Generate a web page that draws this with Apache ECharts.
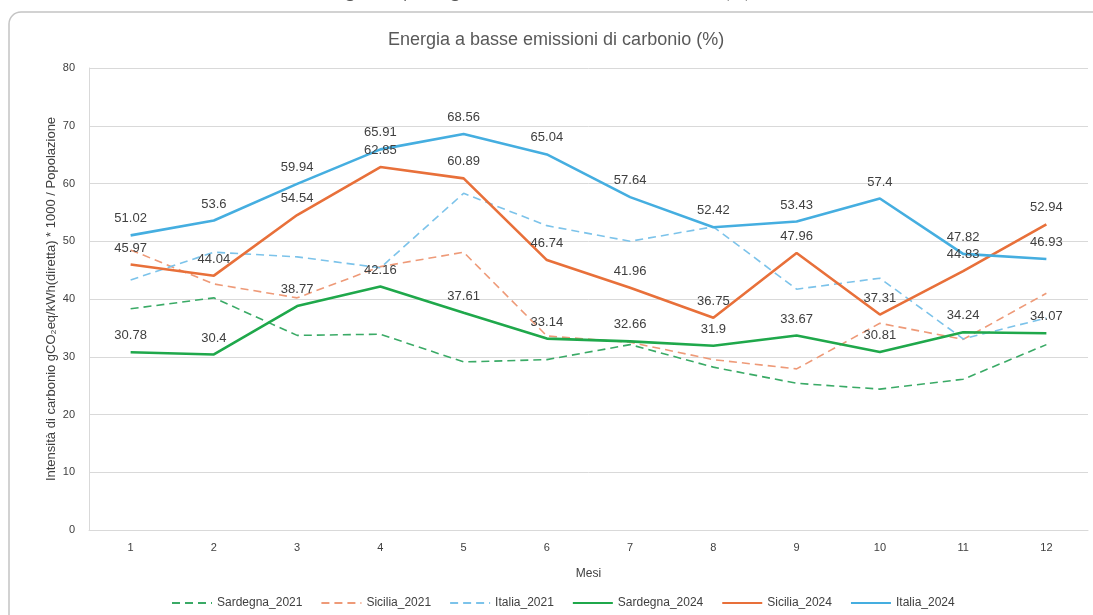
<!DOCTYPE html>
<html>
<head>
<meta charset="utf-8">
<script src="https://cdn.jsdelivr.net/npm/echarts@6/dist/echarts.min.js"></script>
<style>
  html, body { margin: 0; padding: 0; background: #ffffff; }
  #chart { width: 1093px; height: 615px; }
</style>
</head>
<body>
<div id="chart"></div>
<script>
// Months on the category axis
const months = ['1', '2', '3', '4', '5', '6', '7', '8', '9', '10', '11', '12'];

// 2021 series (dashed, no value labels)
const sardegna2021 = [38.3, 40.2, 33.7, 33.9, 29.1, 29.5, 32.1, 28.2, 25.4, 24.4, 26.1, 32.1];
const sicilia2021  = [48.5, 42.6, 40.2, 45.6, 48.1, 33.6, 32.5, 29.5, 27.9, 35.8, 33.0, 41.0];
const italia2021   = [43.3, 48.1, 47.3, 45.4, 58.3, 52.7, 50.0, 52.5, 41.7, 43.6, 33.1, 36.7];

// 2024 series (solid, labelled)
const sardegna2024 = [30.78, 30.4, 38.77, 42.16, 37.61, 33.14, 32.66, 31.9, 33.67, 30.81, 34.24, 34.07];
const sicilia2024  = [45.97, 44.04, 54.54, 62.85, 60.89, 46.74, 41.96, 36.75, 47.96, 37.31, 44.83, 52.94];
const italia2024   = [51.02, 53.6, 59.94, 65.91, 68.56, 65.04, 57.64, 52.42, 53.43, 57.4, 47.82, 46.93];

const yTicks = { min: 0, max: 80, interval: 10 };

const chart = echarts.init(document.getElementById('chart'), null, { renderer: 'canvas' });

const FONT = 'Liberation Sans, Arial, sans-serif';

const labelStyle = {
  show: true,
  position: 'top',
  distance: 10,
  color: '#404040',
  fontSize: 13,
  fontFamily: FONT
};

function dashed(name, data, color) {
  return {
    name, type: 'line', data,
    symbol: 'none',
    lineStyle: { color, width: 1.6, type: [8, 5] },
    itemStyle: { color },
    z: 2
  };
}

function solid(name, data, color) {
  return {
    name, type: 'line', data,
    symbol: 'circle', symbolSize: 0, showSymbol: true,
    lineStyle: { color, width: 2.6 },
    itemStyle: { color },
    label: labelStyle,
    z: 3
  };
}

chart.setOption({
  animation: false,
  backgroundColor: '#ffffff',
  graphic: [
    {
      type: 'rect',
      shape: { x: 9, y: 12, width: 1200, height: 700, r: 12 },
      style: { fill: 'none', stroke: '#c4c4c4', lineWidth: 1.5 },
      z: -1
    },
    {
      type: 'text',
      left: 330, top: -18,
      style: {
        text: 'Figura 1 | Energia a basse emissioni di carbonio (%)',
        fill: '#595959',
        font: '19px Lato, sans-serif'
      }
    }
  ],
  title: {
    text: 'Energia a basse emissioni di carbonio (%)',
    left: 383,
    top: 26,
    textStyle: {
      color: '#595959',
      fontSize: 18,
      fontWeight: 'normal',
      fontFamily: FONT
    }
  },
  legend: {
    bottom: 1,
    left: 166,
    itemWidth: 40,
    itemHeight: 10,
    itemGap: 18,
    itemStyle: { opacity: 0 },
    textStyle: { color: '#404040', fontSize: 12, fontFamily: FONT },
    data: ['Sardegna_2021', 'Sicilia_2021', 'Italia_2021', 'Sardegna_2024', 'Sicilia_2024', 'Italia_2024']
  },
  grid: { left: 89, right: 5, top: 68, bottom: 85 },
  xAxis: {
    type: 'category',
    data: months,
    boundaryGap: true,
    name: 'Mesi',
    nameLocation: 'middle',
    nameGap: 38,
    nameTextStyle: { color: '#404040', fontSize: 12, fontFamily: FONT },
    axisLine: { show: true, lineStyle: { color: '#d9d9d9' } },
    axisTick: { show: false },
    axisLabel: { color: '#404040', fontSize: 11, margin: 12, fontFamily: FONT }
  },
  yAxis: {
    type: 'value',
    min: yTicks.min, max: yTicks.max, interval: yTicks.interval,
    name: 'Intensità di carbonio gCO₂eq/kWh(diretta) * 1000 / Popolazione',
    nameLocation: 'middle',
    nameGap: 31,
    nameMoveOverlap: false,
    nameTextStyle: { color: '#404040', fontSize: 13, fontFamily: FONT },
    axisLine: { show: true, lineStyle: { color: '#d9d9d9' } },
    axisTick: { show: false },
    axisLabel: { color: '#404040', fontSize: 11, margin: 14, fontFamily: FONT },
    splitLine: { lineStyle: { color: '#d9d9d9', width: 1 } }
  },
  series: [
    dashed('Sardegna_2021', sardegna2021, '#3aaa66'),
    dashed('Sicilia_2021', sicilia2021, '#ee9a78'),
    dashed('Italia_2021', italia2021, '#7cc3ea'),
    solid('Sardegna_2024', sardegna2024, '#1fa84b'),
    solid('Sicilia_2024', sicilia2024, '#e8703a'),
    solid('Italia_2024', italia2024, '#45aee0')
  ]
});
</script>
</body>
</html>
